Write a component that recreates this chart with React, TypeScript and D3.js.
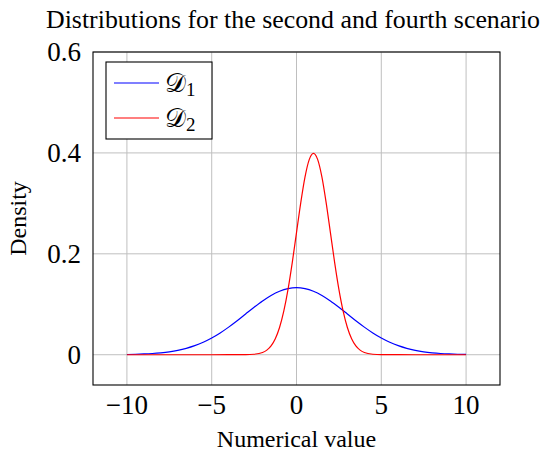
import * as d3 from "d3";

// density estimates
const xs1 = [-10, -9.5, -9, -8.5, -8, -7.5, -7, -6.5, -6, -5.5, -5, -4.5, -4, -3.5, -3, -2.5, -2, -1.5, -1, -0.5, 0,
  0.5, 1, 1.5, 2, 2.5, 3, 3.5, 4, 4.5, 5, 5.5, 6, 6.5, 7, 7.5, 8, 8.5, 9, 9.5, 10];
const d1 = [0.0005, 0.0009, 0.0015, 0.0024, 0.0038, 0.0058, 0.0087, 0.0127, 0.018, 0.0248, 0.0332, 0.0432, 0.0547,
  0.0673, 0.0807, 0.094, 0.1065, 0.1174, 0.1258, 0.1311, 0.133,
  0.1311, 0.1258, 0.1174, 0.1065, 0.094, 0.0807, 0.0673, 0.0547, 0.0432, 0.0332, 0.0248, 0.018, 0.0127, 0.0087,
  0.0058, 0.0038, 0.0024, 0.0015, 0.0009, 0.0005];

const xs2 = [-10, -5, -3, -2.5, -2, -1.75, -1.5, -1.25, -1, -0.75, -0.5, -0.25, 0, 0.25, 0.5, 0.75, 1,
  1.25, 1.5, 1.75, 2, 2.25, 2.5, 2.75, 3, 3.25, 3.5, 3.75, 4, 4.5, 5, 7, 10];
const d2 = [0, 0, 0.0001, 0.0009, 0.0044, 0.0091, 0.0175, 0.0317, 0.054, 0.0863, 0.1295, 0.1826, 0.242, 0.3011,
  0.3521, 0.3867, 0.3989,
  0.3867, 0.3521, 0.3011, 0.242, 0.1826, 0.1295, 0.0863, 0.054, 0.0317, 0.0175, 0.0091, 0.0044, 0.0009, 0.0001, 0, 0];

const xTicks = [-10, -5, 0, 5, 10];
const yTicks = [0, 0.2, 0.4, 0.6];

const series = [
  { name: "1", xs: xs1, ys: d1, color: "#0000ff" },
  { name: "2", xs: xs2, ys: d2, color: "#ff0000" },
];

export default function App() {
  const W = 545, H = 456;
  const left = 93, right = 500, top = 52, bottom = 385;
  const font = "'Liberation Serif', 'DejaVu Serif', serif";

  const x = d3.scaleLinear().domain([-12, 12]).range([left, right]);
  const y = d3.scaleLinear().domain([-0.06, 0.6]).range([bottom, top]);

  const line = d3.line<[number, number]>()
    .x(d => x(d[0]))
    .y(d => y(d[1]))
    .curve(d3.curveMonotoneX);

  const fmtX = (v: number) => (v < 0 ? "\u2212" + Math.abs(v) : String(v));
  const fmtY = (v: number) => (v === 0 ? "0" : v.toFixed(1));

  const lg = { x: 106, y: 62, w: 106, h: 77 };

  return (
    <svg width={W} height={H} style={{ position: "absolute", left: 0, top: 0 }} fontFamily={font}>
      <rect width={W} height={H} fill="#fff" />
      <text x={293} y={28} fontSize={25} textAnchor="middle" textLength={494} lengthAdjust="spacingAndGlyphs">
        Distributions for the second and fourth scenario
      </text>

      {/* grid */}
      {xTicks.map(t => (
        <line key={"gx" + t} x1={x(t)} x2={x(t)} y1={top} y2={bottom} stroke="#bfbfbf" strokeWidth={1} />
      ))}
      {yTicks.map(t => (
        <line key={"gy" + t} x1={left} x2={right} y1={y(t)} y2={y(t)} stroke="#bfbfbf" strokeWidth={1} />
      ))}

      {/* curves */}
      {series.map(s => (
        <path key={s.name} d={line(s.xs.map((v, i) => [v, s.ys[i]] as [number, number])) || ""}
          fill="none" stroke={s.color} strokeWidth={1.2} />
      ))}

      <rect x={left} y={top} width={right - left} height={bottom - top} fill="none" stroke="#000" strokeWidth={1.1} />

      {/* tick labels */}
      {xTicks.map(t => (
        <text key={"tx" + t} x={x(t)} y={bottom + 29} fontSize={27} textAnchor="middle">{fmtX(t)}</text>
      ))}
      {yTicks.map(t => (
        <text key={"ty" + t} x={left - 12} y={y(t) + 9} fontSize={27} textAnchor="end">{fmtY(t)}</text>
      ))}

      <text x={(left + right) / 2} y={447} fontSize={24} textAnchor="middle">Numerical value</text>
      <text transform={`translate(26,${(top + bottom) / 2}) rotate(-90)`} fontSize={24} textAnchor="middle">Density</text>

      {/* legend */}
      <rect x={lg.x} y={lg.y} width={lg.w} height={lg.h} fill="#fff" stroke="#000" strokeWidth={1.1} />
      {series.map((s, i) => (
        <g key={"lg" + s.name}>
          <line x1={lg.x + 8} x2={lg.x + 53} y1={lg.y + 21 + i * 35} y2={lg.y + 21 + i * 35}
            stroke={s.color} strokeWidth={1.2} />
          <text x={lg.x + 59} y={lg.y + 30 + i * 35} fontSize={26}>
            <tspan fontFamily="'DejaVu Serif', serif">{"\u{1D49F}"}</tspan>
            <tspan fontSize={19} dy={4}>{s.name}</tspan>
          </text>
        </g>
      ))}
    </svg>
  );
}
